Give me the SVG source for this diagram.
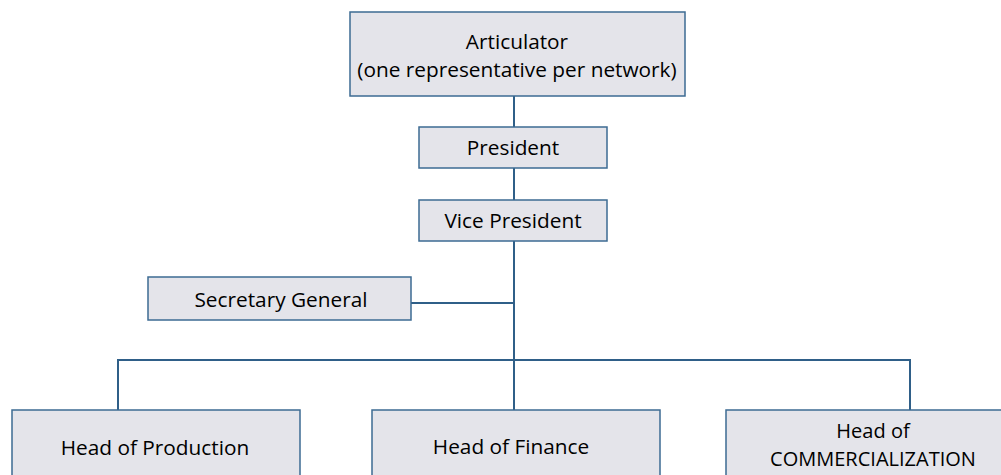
<svg xmlns="http://www.w3.org/2000/svg" width="1001" height="475" viewBox="0 0 1001 475">
<style>
.box{fill:#e4e4ea;stroke:#3d6b93;stroke-width:1.5}
.ln{stroke:#2f5f88;stroke-width:2;fill:none}
text{font-family:"Open Sans","Liberation Sans",sans-serif;font-size:20.8px;fill:#000;text-anchor:middle}
.sm{font-size:20px}
</style>
<rect width="1001" height="475" fill="#fff"/>
<g id="connectors">
<line class="ln" x1="514" y1="96" x2="514" y2="127"/>
<line class="ln" x1="514" y1="168" x2="514" y2="200"/>
<line class="ln" x1="514" y1="241" x2="514" y2="410"/>
<line class="ln" x1="411" y1="303" x2="514" y2="303"/>
<polyline class="ln" points="118,410 118,360 910,360 910,410"/>
</g>
<g id="articulator">
<rect class="box" x="350" y="12" width="335" height="84"/>
<text x="517" y="49">Articulator</text>
<text x="517" y="77">(one representative per network)</text>
</g>
<g id="president">
<rect class="box" x="419" y="127" width="188" height="41"/>
<text x="513" y="155">President</text>
</g>
<g id="vice-president">
<rect class="box" x="419" y="200" width="188" height="41"/>
<text x="513" y="228">Vice President</text>
</g>
<g id="secretary-general">
<rect class="box" x="148" y="277" width="263" height="43"/>
<text x="281" y="307">Secretary General</text>
</g>
<g id="head-production">
<rect class="box" x="12" y="410" width="288" height="80"/>
<text x="155" y="455">Head of Production</text>
</g>
<g id="head-finance">
<rect class="box" x="372" y="410" width="288" height="80"/>
<text x="511" y="454">Head of Finance</text>
</g>
<g id="head-commercialization">
<rect class="box" x="726" y="410" width="290" height="80"/>
<text class="sm" x="873" y="438">Head of</text>
<text class="sm" x="873" y="466">COMMERCIALIZATION</text>
</g>
</svg>
